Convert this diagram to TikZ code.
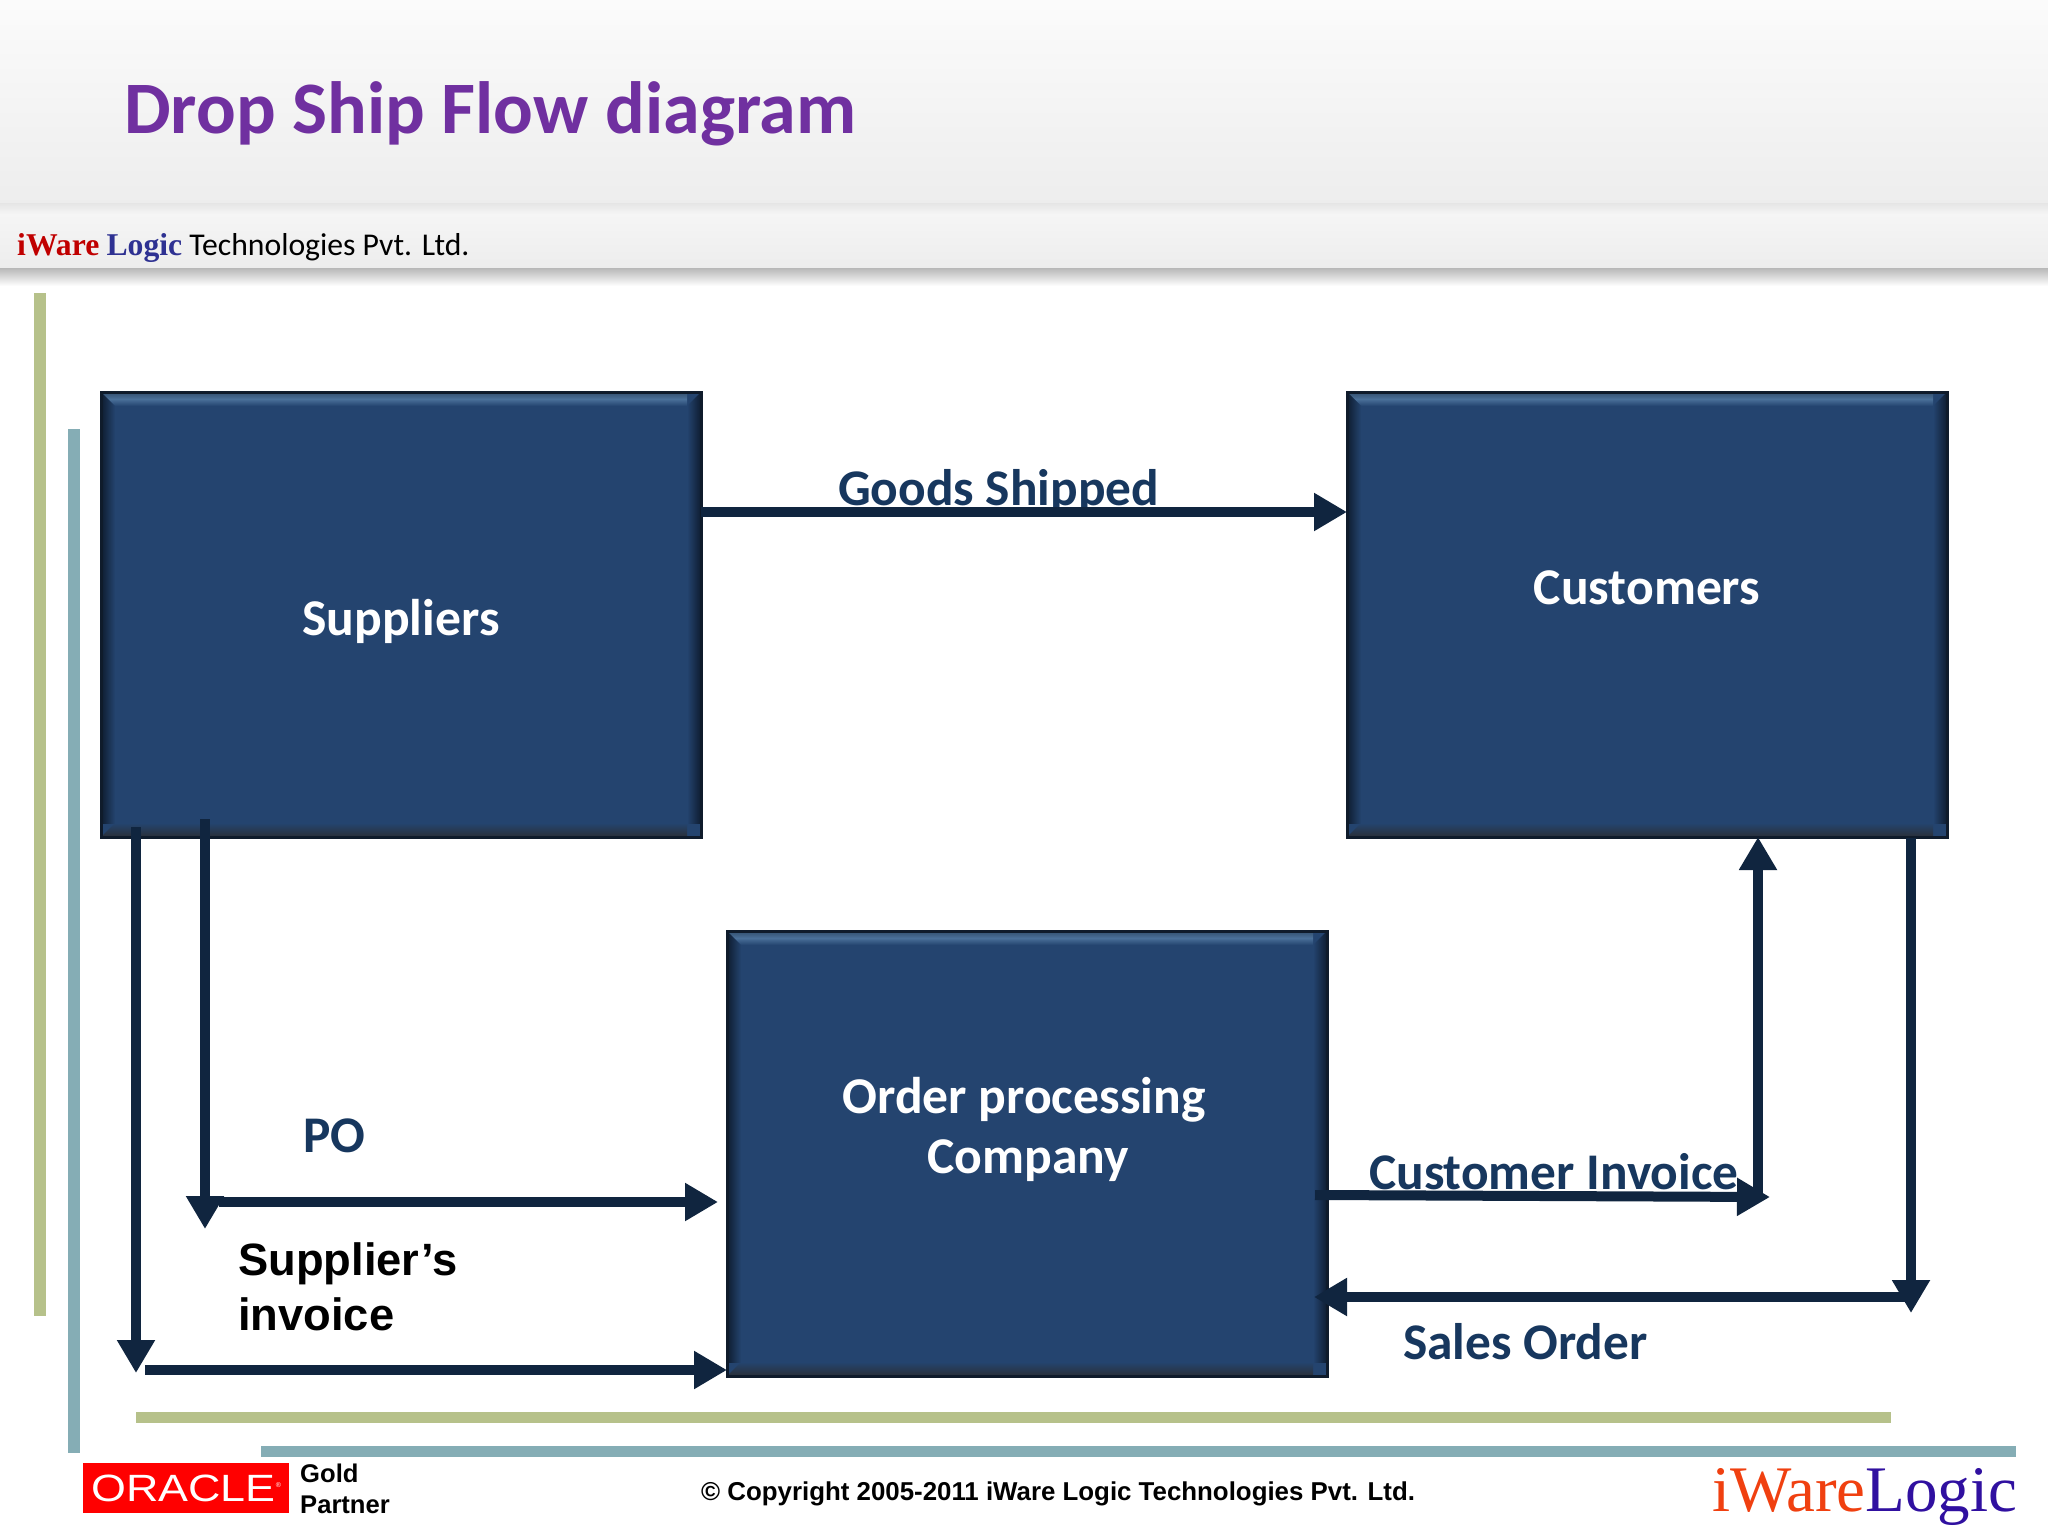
\documentclass[tikz,border=0pt]{standalone}
\usepackage{fontspec}
\usepackage{graphicx}
\usetikzlibrary{arrows.meta}
\setmainfont{Carlito}
\newfontfamily\arialf{Liberation Sans}
\newfontfamily\timesf{Liberation Serif}
\definecolor{titlepurple}{HTML}{7030A0}
\definecolor{boxblue}{HTML}{24446F}
\definecolor{bevellight}{HTML}{4A7099}
\definecolor{beveldark}{HTML}{0E1C30}
\definecolor{bevelbottom}{HTML}{2A2F38}
\definecolor{boxedge}{HTML}{0F1B2B}
\definecolor{linenavy}{HTML}{10253F}
\definecolor{labelnavy}{HTML}{17375E}
\definecolor{barolive}{HTML}{B6C18A}
\definecolor{barteal}{HTML}{85ADB5}
\definecolor{oraclered}{HTML}{FF0000}
\newcommand{\fs}[1]{\fontsize{#1}{#1}\selectfont}
\newcommand{\bevelstrip}[5]{\begin{scope}\clip (#1) -- (#2) -- (#3) -- (#4) -- cycle; \shade[#5] (#1) rectangle (#3);\end{scope}}
\tikzset{
  flowbox/.style={draw=boxedge,line width=3pt,fill=boxblue,minimum width=600pt,minimum height=445pt,inner sep=0pt,outer sep=0pt,
    path picture={
      \coordinate (NW) at (path picture bounding box.north west);
      \coordinate (NE) at (path picture bounding box.north east);
      \coordinate (SW) at (path picture bounding box.south west);
      \coordinate (SE) at (path picture bounding box.south east);
      \coordinate (nw) at ([shift={(14pt,-14pt)}]NW);
      \coordinate (ne) at ([shift={(-14pt,-14pt)}]NE);
      \coordinate (sw) at ([shift={(14pt,14pt)}]SW);
      \coordinate (se) at ([shift={(-14pt,14pt)}]SE);
      \bevelstrip{NW}{NE}{ne}{nw}{top color=bevellight!60!boxedge,bottom color=boxblue,middle color=bevellight}
      \bevelstrip{SW}{SE}{se}{sw}{bottom color=bevelbottom,top color=boxblue}
      \bevelstrip{NW}{nw}{sw}{SW}{left color=beveldark,right color=boxblue}
      \bevelstrip{NE}{ne}{se}{SE}{right color=beveldark,left color=boxblue}
    }},
  boxtext/.style={text=white,font=\bfseries\fs{51.6},align=center,inner sep=0pt},
  flowlabel/.style={text=labelnavy,font=\bfseries\fs{51.4},anchor=base west,inner sep=0pt},
  flowline/.style={draw=linenavy,line width=10pt,-{Triangle[length=33pt,width=36pt]}},
  plain/.style={anchor=base west,inner sep=0pt},
}
\begin{document}
\begin{tikzpicture}[x=1pt,y=-1pt]
\useasboundingbox (0,0) rectangle (2048,1536);
\fill[white] (0,0) rectangle (2048,1536);
% header
\shade[top color=white!97!gray,bottom color=black!7] (0,0) rectangle (2048,205);
\shade[top color=black!10,bottom color=black!4] (0,203) rectangle (2048,214);
\shade[top color=black!4,bottom color=black!7] (0,214) rectangle (2048,268);
\shade[top color=black!28,bottom color=white] (0,268) rectangle (2048,286);
\node[plain,text=titlepurple,font=\bfseries\fs{74}] (title) at (124,134) {Drop Ship Flow diagram};
\node[plain,font=\fs{31.7}] (company) at (17,255) {{\timesf\bfseries\color[HTML]{C00000}iWare} {\timesf\bfseries\color[HTML]{2E3192}Logic} Technologies Pvt. Ltd.};
% bars
\fill[barolive] (34,293) rectangle (46,1316);
\fill[barteal] (68,429) rectangle (80,1453);
\fill[barolive] (136,1412) rectangle (1891,1423);
\fill[barteal] (261,1446) rectangle (2016,1457);
% boxes
\node[flowbox,anchor=north west,label={[boxtext,name=suppliersT,yshift=-7pt]center:Suppliers}] (suppliers) at (101,392) {};
\node[flowbox,anchor=north west,label={[boxtext,name=customersT,yshift=27pt]center:Customers}] (customers) at (1347,392) {};
\node[flowbox,anchor=north west,label={[boxtext,name=orderT,yshift=24pt,xshift=-3pt]center:{Order processing\\[9pt]\hspace*{8pt}Company}}] (order) at (727,931) {};
% labels (below the connectors)
\node[flowlabel] (goods) at (838,505) {Goods Shipped};
\node[flowlabel] (po) at (303,1152) {PO};
\node[plain,font=\arialf\bfseries\fs{45.3},align=left,anchor=north west] (invoice) at (238,1242) {Supplier’s\\[10pt]invoice};
\node[flowlabel] (cinv) at (1369,1189) {Customer Invoice};
\node[flowlabel] (sorder) at (1403,1359) {Sales Order};
% connector ends
\coordinate (poS) at (205,819);
\coordinate (poE) at (205,1229);
\coordinate (poH) at (219,1202);
\coordinate (siS) at (136,827);
\coordinate (siE) at (136,1373);
\coordinate (siH) at (145,1370);
\coordinate (ciS) at (1315,1195);
\coordinate (ciE) at (1770,1197);
\coordinate (ciV) at (1758,1199);
\coordinate (soS) at (1911,838);
\coordinate (soE) at (1911,1313);
\coordinate (soH) at (1911,1297);
% connectors
\draw[flowline] (suppliers.east |- 0,512) -- (customers.west |- 0,512);
\draw[flowline] (poS) -- (poE);
\draw[flowline] (poH) -- (718,1202);
\draw[flowline] (siS) -- (siE);
\draw[flowline] (siH) -- (order.west |- siH);
\draw[flowline] (ciS) -- (ciE);
\draw[flowline] (ciV) -- (customers.south -| ciV);
\draw[flowline] (soS) -- (soE);
\draw[flowline,shorten >=-13pt] (soH) -- (order.east |- soH);
% footer
\node[fill=oraclered,minimum width=206pt,minimum height=50pt,inner sep=0pt,anchor=north west,text=white,font=\arialf\fs{38}] (oracle) at (83,1463) {\scalebox{1.18}[1]{ORACLE}\raisebox{14pt}{\fs{7}®}};
\node[plain,font=\arialf\bfseries\fs{25.6}] (gold) at (300,1482) {Gold};
\node[plain,font=\arialf\bfseries\fs{25.6}] (partner) at (300,1513) {Partner};
\node[plain,font=\arialf\bfseries\fs{25.85}] (copy) at (701,1500) {© Copyright 2005-2011 iWare Logic Technologies Pvt. Ltd.};
\node[plain,font=\timesf\fs{65}] (brand) at (1712,1511) {{\color[HTML]{F04010}iWare}{\color[HTML]{3010A0}Logic}};
\end{tikzpicture}
\end{document}
